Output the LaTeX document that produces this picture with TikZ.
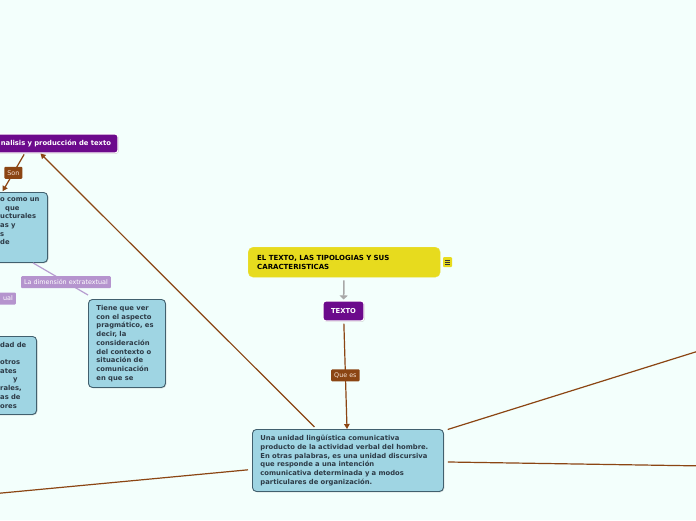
\documentclass[tikz,border=0pt]{standalone}
\usepackage{fontspec}
\setmainfont{DejaVu Sans}
\usetikzlibrary{shadows,arrows.meta}
\definecolor{bg}{HTML}{F3FFFC}
\definecolor{bluefill}{HTML}{9FD5E3}
\definecolor{blueline}{HTML}{41606E}
\definecolor{bluetext}{HTML}{2D3B47}
\definecolor{purp}{HTML}{6C0A8C}
\definecolor{brownc}{HTML}{8B4513}
\definecolor{lpurp}{HTML}{B594CE}
\definecolor{lpurpline}{HTML}{B79DD0}
\definecolor{yel}{HTML}{E7DB1E}
\definecolor{grayarr}{HTML}{A8A8A8}
\begin{document}
\begin{tikzpicture}[x=1pt,y=-1pt,
  boldtxt/.style={font=\fontsize{6.8}{8.7}\selectfont\bfseries},
  bluebox/.style={draw=blueline, line width=0.9pt, fill=bluefill, rounded corners=4pt,
    drop shadow={shadow xshift=0.8pt, shadow yshift=-0.8pt, opacity=0.35}},
  bluetxt/.style={boldtxt, text=bluetext, align=left},
  purpbox/.style={draw=white, line width=1.1pt, fill=purp, rounded corners=3pt, text=white, boldtxt,
    drop shadow={shadow xshift=0.8pt, shadow yshift=-0.8pt, opacity=0.4}},
  lbl/.style={fill=brownc, text={rgb,255:red,245;green,225;blue,210}, font=\fontsize{6.4}{7}\selectfont,
    inner xsep=3pt, inner ysep=2pt, rounded corners=1pt, minimum height=12pt},
  plbl/.style={fill=lpurp, text=white, font=\fontsize{6.4}{7}\selectfont,
    inner xsep=3pt, inner ysep=2pt, rounded corners=1pt, minimum height=12pt},
  brownline/.style={draw=brownc, line width=1.2pt},
  brownarrow/.style={brownline, -{Triangle[length=5pt,width=5.5pt]}},
]
\useasboundingbox (0,0) rectangle (696,520);
\clip (0,0) rectangle (696,520);
\fill[bg] (0,0) rectangle (696,520);

% nodes
\node[purpbox, minimum width=175pt, minimum height=19pt, text width=161pt, align=right, inner xsep=7pt, inner ysep=0pt]
  (analisis) at (30.5,143.5) {nalisis y producción de texto};

\node[bluebox, minimum width=132pt, minimum height=70pt, anchor=north east] (box1) at (48,192) {};
\node[bluetxt, anchor=north west, inner sep=0pt, text width=46pt] (box1txt) at (0,197.3)
  {o como un\\\hspace*{5pt}que\\ucturales\\as y\\s\\de};

\node[bluebox, minimum width=132pt, minimum height=78pt, anchor=north east] (box3) at (37,336) {};
\node[bluetxt, anchor=north west, inner sep=0pt, text width=36pt] (box3txt) at (0,341.8)
  {dad de\\\mbox{}\\otros\\ates\\\hspace*{13pt}y\\rales,\\as de\\ores};

\node[bluebox, bluetxt, anchor=north west, minimum width=77pt, minimum height=88pt,
  text width=61pt, inner xsep=8pt, inner ysep=0pt] (tiene) at (88,299)
  {Tiene que ver\\con el aspecto\\pragmático, es\\decir, la\\consideración\\del contexto o\\situación de\\comunicación\\en que se};

\node[bluebox, bluetxt, anchor=north west, minimum width=191pt, minimum height=62pt,
  text width=175pt, inner xsep=8pt, inner ysep=0pt] (main) at (252,429)
  {Una unidad lingüística comunicativa\\producto de la actividad verbal del hombre.\\En otras palabras, es una unidad discursiva\\que responde a una intención\\comunicativa determinada y a modos\\particulares de organización.};

\node[fill=yel, draw=yel!85!white, rounded corners=5pt, font=\fontsize{7}{8.5}\selectfont\bfseries, text=black, align=left,
  anchor=north west, minimum width=192pt, minimum height=30pt, text width=174pt, inner xsep=9pt, inner ysep=0pt]
  (title) at (248,247) {EL TEXTO, LAS TIPOLOGIAS Y SUS\\CARACTERISTICAS};

\node[fill=yel, rounded corners=1pt, minimum width=9pt, minimum height=10pt, inner sep=0pt] (note) at (447.5,262) {};
\draw[black!80, line width=0.6pt] ([xshift=-2.3pt,yshift=-2pt]note.center) -- ([xshift=2.3pt,yshift=-2pt]note.center)
  ([xshift=-2.3pt]note.center) -- ([xshift=2.3pt]note.center)
  ([xshift=-2.3pt,yshift=2pt]note.center) -- ([xshift=2.3pt,yshift=2pt]note.center);

\node[purpbox, minimum width=41pt, minimum height=20pt, inner sep=0pt] (texto) at (343.5,311) {TEXTO};

\node[plbl, anchor=east, minimum width=40pt, align=right, text width=34pt] (ual) at (16,298.5) {ual};

% off-image ends
\coordinate (r1) at (900,288);
\coordinate (r2) at (900,469);
\coordinate (l1) at (-200,512);

% connectors
\draw[grayarr, line width=1.5pt, -{Triangle[length=4pt,width=8pt]}, shorten <=3pt, shorten >=1pt] (title) -- (texto);
\draw[brownarrow, shorten <=2pt] (texto) -- node[lbl]{Que es} (main);
\draw[brownarrow, shorten <=3pt] (main) -- (analisis);
\draw[brownarrow, shorten <=1pt, shorten >=1pt] (analisis) -- node[lbl]{Son} (box1);
\draw[lpurpline, line width=1.2pt] ([xshift=-15pt]box1.south east) -- node[plbl, pos=0.6]{La dimensión extratextual} ([yshift=4pt]tiene.north west);
\draw[brownline, shorten <=4pt] (main) -- (r1);
\draw[brownline, shorten <=4pt] (main) -- (r2);
\draw[brownline, shorten <=4pt] (main) -- (l1);
\end{tikzpicture}
\end{document}
